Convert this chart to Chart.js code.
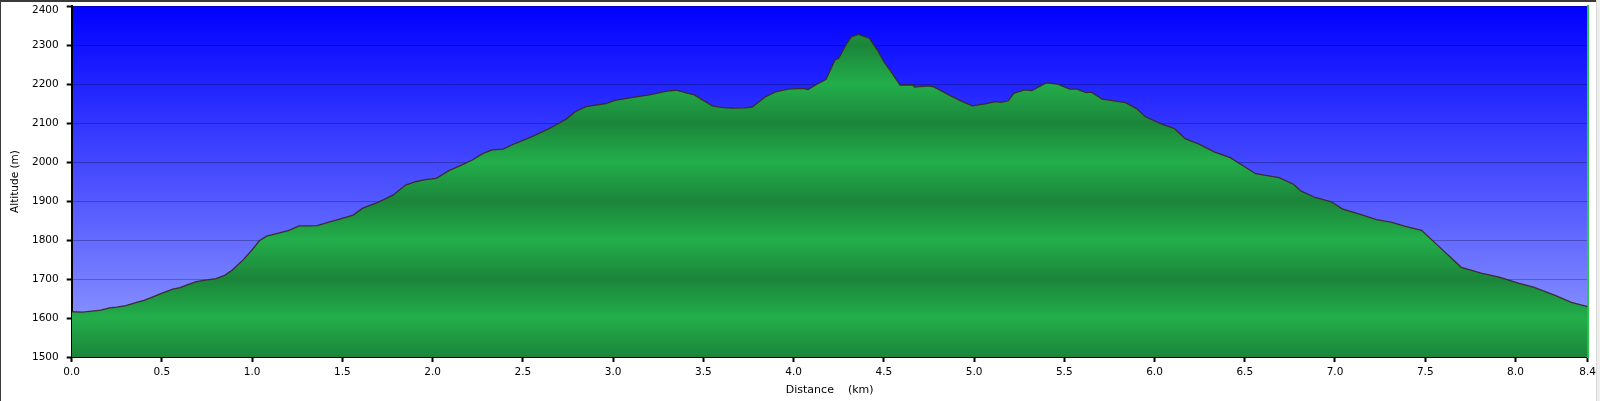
<!DOCTYPE html>
<html>
<head>
<meta charset="utf-8">
<script src="https://cdn.jsdelivr.net/npm/chart.js@4/dist/chart.umd.min.js"></script>
<style>
  html, body { margin: 0; padding: 0; background: #fff; }
  body { width: 1600px; height: 401px; position: relative; overflow: hidden; }
  #profile { position: absolute; left: 0; top: 0; }
  .frame-top { position: absolute; left: 0; top: 0; width: 1596px; height: 2px; background: #3a3a3a; }
  .frame-left { position: absolute; left: 0; top: 0; width: 1px; height: 401px; background: #3a3a3a; }
  .frame-right { position: absolute; left: 1596px; top: 0; width: 4px; height: 401px; background: #eeeeee; border-left: 1px solid #d8d8d8; }
</style>
</head>
<body>
<canvas id="profile" width="1600" height="401"></canvas>
<div class="frame-top"></div>
<div class="frame-left"></div>
<div class="frame-right"></div>
<script>
// elevation profile
const distanceKm = [
  0.00, 0.06, 0.10, 0.16, 0.21, 0.25, 0.30, 0.36, 0.40, 0.44, 0.49, 0.56, 0.60, 0.64, 0.69, 0.74,
  0.80, 0.85, 0.89, 0.95, 1.00, 1.04, 1.08, 1.14, 1.20, 1.26, 1.31, 1.36, 1.42, 1.48, 1.56, 1.61,
  1.70, 1.78, 1.85, 1.91, 1.96, 2.02, 2.09, 2.16, 2.22, 2.28, 2.33, 2.39, 2.46, 2.55, 2.61, 2.66,
  2.74, 2.79, 2.85, 2.96, 3.01, 3.10, 3.20, 3.30, 3.35, 3.40, 3.45, 3.50, 3.55, 3.60, 3.66, 3.73,
  3.77, 3.81, 3.84, 3.90, 3.97, 4.05, 4.08, 4.12, 4.18, 4.23, 4.25, 4.29, 4.32, 4.36, 4.42, 4.47,
  4.50, 4.54, 4.59, 4.66, 4.67, 4.75, 4.78, 4.86, 4.93, 4.99, 5.06, 5.12, 5.15, 5.19, 5.22, 5.28,
  5.32, 5.40, 5.46, 5.53, 5.57, 5.62, 5.65, 5.71, 5.84, 5.90, 5.95, 6.04, 6.11, 6.17, 6.25, 6.33,
  6.42, 6.56, 6.69, 6.77, 6.81, 6.89, 6.98, 7.04, 7.14, 7.23, 7.31, 7.39, 7.48, 7.56, 7.64, 7.70,
  7.81, 7.91, 8.02, 8.10, 8.22, 8.31, 8.40
];
const altitudeM = [
  1616, 1615, 1617, 1620, 1626, 1628, 1632, 1640, 1645, 1652, 1662, 1674, 1678, 1685, 1693, 1697,
  1701, 1710, 1723, 1749, 1775, 1798, 1810, 1817, 1824, 1836, 1836, 1837, 1845, 1853, 1864, 1881,
  1897, 1915, 1941, 1950, 1955, 1958, 1978, 1992, 2005, 2022, 2031, 2033, 2048, 2065, 2078, 2089,
  2110, 2129, 2142, 2150, 2158, 2165, 2172, 2182, 2184, 2178, 2172, 2158, 2144, 2140, 2138, 2139,
  2141, 2155, 2166, 2180, 2187, 2189, 2186, 2197, 2212, 2262, 2266, 2300, 2321, 2327, 2317, 2283,
  2257, 2232, 2197, 2198, 2192, 2195, 2192, 2172, 2156, 2144, 2149, 2155, 2153, 2157, 2176, 2185,
  2183, 2203, 2200, 2187, 2187, 2178, 2179, 2161, 2152, 2137, 2116, 2097, 2086, 2060, 2045, 2026,
  2011, 1970, 1960, 1943, 1926, 1909, 1898, 1880, 1866, 1852, 1846, 1835, 1825, 1790, 1756, 1730,
  1715, 1705, 1689, 1679, 1658, 1640, 1629
];

const xTickValues = [0, 0.5, 1, 1.5, 2, 2.5, 3, 3.5, 4, 4.5, 5, 5.5, 6, 6.5, 7, 7.5, 8, 8.4];
const yMin = 1500;
const yMax = 2400;
const yStep = 100;

const tickFont = { family: 'DejaVu Sans', size: 10.5 };

// blue sky behind the plot
const skyPlugin = {
  id: 'sky',
  beforeDraw(chart) {
    const a = chart.chartArea;
    const c = chart.ctx;
    const g = c.createLinearGradient(0, a.top, 0, a.bottom);
    g.addColorStop(0, 'rgb(0,0,255)');
    g.addColorStop(1, 'rgb(150,160,255)');
    c.save();
    c.fillStyle = g;
    c.fillRect(a.left, a.top, a.right - a.left, a.bottom - a.top);
    c.restore();
  }
};

// banded green fill, light on even hundreds, dark on odd
function groundFill(ctx) {
  const chart = ctx.chart;
  const a = chart.chartArea;
  if (!a) return 'rgb(30,150,65)';
  const ys = chart.scales.y;
  const g = chart.ctx.createLinearGradient(0, a.top, 0, a.bottom);
  for (let h = yMax; h >= yMin; h -= yStep) {
    const t = (ys.getPixelForValue(h) - a.top) / (a.bottom - a.top);
    g.addColorStop(Math.min(1, Math.max(0, t)), (h / yStep) % 2 === 0 ? 'rgb(35,174,75)' : 'rgb(27,133,58)');
  }
  return g;
}

const points = distanceKm.map((d, i) => ({ x: d, y: altitudeM[i] }));

new Chart(document.getElementById('profile'), {
  type: 'line',
  data: {
    datasets: [{
      data: points,
      borderColor: 'rgba(60,40,40,0.95)',
      borderWidth: 1.3,
      backgroundColor: groundFill,
      fill: 'start',
      pointRadius: 0,
      tension: 0
    }]
  },
  options: {
    responsive: false,
    animation: false,
    devicePixelRatio: 1,
    layout: { padding: { top: 6, right: 10, left: 0, bottom: 0 } },
    plugins: { legend: { display: false }, tooltip: { enabled: false } },
    scales: {
      x: {
        type: 'linear',
        min: 0,
        max: 8.4,
        afterBuildTicks: s => { s.ticks = xTickValues.map(v => ({ value: v })); },
        afterFit: s => { s.height = 44; },
        ticks: {
          color: '#000',
          font: tickFont,
          padding: 4,
          maxRotation: 0,
          autoSkip: false,
          callback: v => Number(v).toFixed(1)
        },
        grid: { drawOnChartArea: false, drawTicks: true, tickLength: 5, tickColor: '#000', tickWidth: 2 },
        border: { color: '#000', width: 2 },
        title: {
          display: true,
          text: 'Distance    (km)',
          color: '#000',
          font: { family: 'DejaVu Sans', size: 11 },
          padding: { top: 0, bottom: 4 }
        }
      },
      y: {
        min: yMin,
        max: yMax,
        z: 1,
        afterFit: s => { s.width = 71.7; s.paddingTop = 0; s.paddingBottom = 0; },
        ticks: {
          stepSize: yStep,
          color: '#000',
          padding: 8,
          // top label sits a little below its line so it stays inside the frame
          font: c => (c.tick && c.tick.value === yMax) ? { ...tickFont, lineHeight: 0.86 } : tickFont,
          callback: v => v === yMax ? ['', String(v)] : String(v)
        },
        grid: { color: 'rgba(0,0,30,0.28)', lineWidth: 1, drawTicks: true, tickLength: 5, tickColor: '#000', tickWidth: 2 },
        border: { color: '#000', width: 2 },
        title: {
          display: true,
          text: 'Altitude (m)',
          color: '#000',
          font: { family: 'DejaVu Sans', size: 10.5 },
          padding: { top: 9, bottom: 0 }
        }
      },
      y2: {
        position: 'right',
        min: yMin,
        max: yMax,
        ticks: { display: false },
        grid: { display: false, drawTicks: false },
        border: { color: 'rgb(40,200,70)', width: 2 },
        afterFit: s => { s.width = 0; s.paddingTop = 0; s.paddingBottom = 0; }
      }
    }
  },
  plugins: [skyPlugin]
});
</script>
</body>
</html>
